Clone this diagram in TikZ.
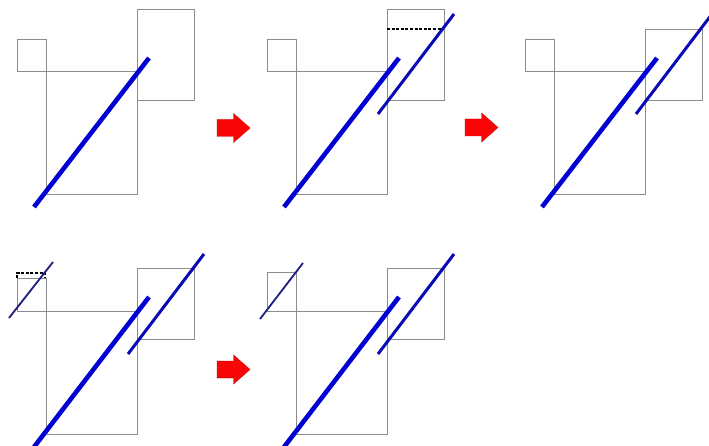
\documentclass[tikz,border=0pt]{standalone}
\begin{document}
\begin{tikzpicture}[x=1pt,y=-1pt,
  frame/.style={draw=black!45,line width=0.9pt},
  thickbar/.style={draw={rgb,255:red,0;green,0;blue,210},line width=4.6pt},
  midbar/.style={draw={rgb,255:red,10;green,10;blue,180},line width=3pt},
  thinbar/.style={draw={rgb,255:red,30;green,30;blue,130},line width=1.8pt},
  dashline/.style={draw=black,line width=1.3pt,dash pattern=on 3pt off 1.6pt},
  redarrow/.style={fill={rgb,255:red,250;green,5;blue,5},draw={rgb,255:red,200;green,0;blue,0},line width=0.4pt}]
\useasboundingbox (0,0) rectangle (709,446);
\clip (0,0) rectangle (709,446);
% panel 1
\begin{scope}
  \draw[frame] (17,39) rectangle (46,71);
  \draw[frame] (46,71) rectangle (137,194);
  \draw[frame] (137,9) rectangle (194,100);
  \draw[thickbar] (34,207) -- (149,58);
\end{scope}
% panel 2
\begin{scope}[shift={(250,0)}]
  \draw[frame] (17,39) rectangle (46,71);
  \draw[frame] (46,71) rectangle (137,194);
  \draw[frame] (137,9) rectangle (194,100);
  \draw[dashline] (137,29) -- (191.5,29);
  \draw[thickbar] (34,207) -- (149,58);
  \draw[midbar] (128,114) -- (204,14);
\end{scope}
% panel 3
\begin{scope}[shift={(508,0)}]
  \draw[frame] (17,39) rectangle (46,71);
  \draw[frame] (46,71) rectangle (137,194);
  \draw[frame] (137,29) rectangle (194,100);
  \draw[thickbar] (34,207) -- (149,58);
  \draw[midbar] (128,114) -- (204,14);
\end{scope}
% panel 4
\begin{scope}[shift={(0,240)}]
  \draw[frame] (17,38) rectangle (46,71);
  \draw[frame] (46,71) rectangle (137,194);
  \draw[frame] (137,28) rectangle (194,99);
  \draw[dashline] (17,38) -- (17,33) -- (45,33) -- (45,38);
  \draw[thickbar] (34,207) -- (149,57);
  \draw[midbar] (128,114) -- (204,14);
  \draw[thinbar] (9,78) -- (53,22);
\end{scope}
% panel 5
\begin{scope}[shift={(250,240)}]
  \draw[frame] (17,32) rectangle (46,71);
  \draw[frame] (46,71) rectangle (137,194);
  \draw[frame] (137,28) rectangle (194,99);
  \draw[thickbar] (34,207) -- (149,57);
  \draw[midbar] (128,114) -- (204,14);
  \draw[thinbar] (10,79) -- (53,23);
\end{scope}
% red arrows
\foreach \ax/\ay in {217/128, 465/127.5, 217/369.5}{
  \draw[redarrow] (\ax,\ay-8.5) -- ++(16.5,0) -- ++(0,-6) -- (\ax+33,\ay) -- (\ax+16.5,\ay+14.5) -- ++(0,-6) -- (\ax,\ay+8.5) -- cycle;
}
\end{tikzpicture}
\end{document}
